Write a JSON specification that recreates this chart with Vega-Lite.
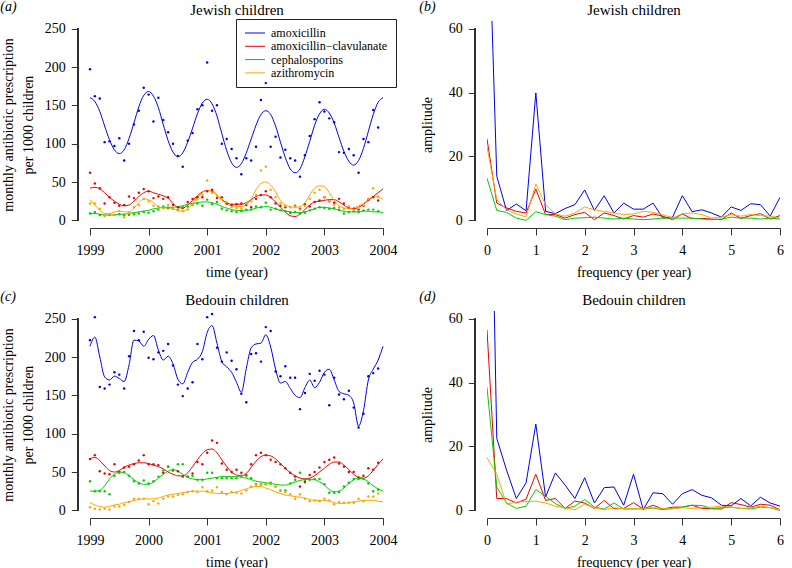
{
"$schema":"https://vega.github.io/schema/vega-lite/v6.json",
"padding":{"left":0,"top":0,"right":0,"bottom":0},
"config":{"font":"Liberation Serif, Times New Roman, serif","view":{"stroke":null},
"axis":{"labelFont":"Liberation Serif, Times New Roman, serif","titleFont":"Liberation Serif, Times New Roman, serif","labelFontSize":14,"titleFontSize":14,"titleFontWeight":"normal","labelColor":"#000","titleColor":"#000","tickColor":"#333","domainColor":"#333","tickSize":7,"domain":false,"grid":false,"labelPadding":6,"labelFlush":false,"labelOverlap":false,"labelBound":false},
"title":{"font":"Liberation Serif, Times New Roman, serif","fontSize":14,"fontWeight":"normal","fontStyle":"italic","color":"#000","anchor":"start","frame":"bounds","baseline":"alphabetic","offset":-12,"dx":-1},
"legend":{"labelFont":"Liberation Serif, Times New Roman, serif"}},
"datasets":{
"drugs":[{"k":"a","drug":"amoxicillin"},{"k":"b","drug":"amoxicillin−clavulanate"},{"k":"c","drug":"cephalosporins"},{"k":"d","drug":"azithromycin"},{"k":"A","drug":"amoxicillin"},{"k":"B","drug":"amoxicillin−clavulanate"},{"k":"C","drug":"cephalosporins"},{"k":"D","drug":"azithromycin"}],
"ja":[
{"t":1999,"a":197,"b":62,"c":9,"d":22,"A":160,"B":42,"C":9,"D":27},
{"t":1999.083,"a":162,"b":48,"c":11,"d":22,"A":155,"B":43,"C":9,"D":20},
{"t":1999.167,"a":159,"b":42,"c":7,"d":15,"A":142,"B":41,"C":8,"D":13},
{"t":1999.25,"a":102,"b":22,"c":6,"d":6,"A":123,"B":36,"C":7,"D":9},
{"t":1999.333,"a":103,"b":30,"c":7,"d":8,"A":105,"B":30,"C":7,"D":9},
{"t":1999.417,"a":97,"b":23,"c":7,"d":7,"A":92,"B":25,"C":7,"D":11},
{"t":1999.5,"a":107,"b":19,"c":8,"d":12,"A":87,"B":21,"C":8,"D":12},
{"t":1999.583,"a":78,"b":20,"c":7,"d":4,"A":92,"B":19,"C":8,"D":11},
{"t":1999.667,"a":100,"b":31,"c":7,"d":10,"A":107,"B":20,"C":9,"D":11},
{"t":1999.75,"a":125,"b":29,"c":8,"d":17,"A":127,"B":25,"C":10,"D":16},
{"t":1999.833,"a":143,"b":36,"c":9,"d":20,"A":148,"B":31,"C":11,"D":23},
{"t":1999.917,"a":173,"b":41,"c":11,"d":28,"A":163,"B":36,"C":12,"D":28},
{"t":2000,"a":164,"b":38,"c":10,"d":25,"A":168,"B":38,"C":13,"D":27},
{"t":2000.083,"a":129,"b":29,"c":12,"d":19,"A":162,"B":36,"C":15,"D":23},
{"t":2000.167,"a":160,"b":31,"c":14,"d":18,"A":147,"B":34,"C":16,"D":18},
{"t":2000.25,"a":131,"b":28,"c":18,"d":16,"A":125,"B":32,"C":17,"D":16},
{"t":2000.333,"a":115,"b":30,"c":16,"d":20,"A":104,"B":29,"C":17,"D":16},
{"t":2000.417,"a":100,"b":20,"c":15,"d":15,"A":89,"B":22,"C":17,"D":15},
{"t":2000.5,"a":84,"b":17,"c":14,"d":13,"A":83,"B":17,"C":18,"D":13},
{"t":2000.583,"a":70,"b":16,"c":17,"d":12,"A":88,"B":16,"C":19,"D":12},
{"t":2000.667,"a":104,"b":24,"c":18,"d":14,"A":102,"B":20,"C":21,"D":15},
{"t":2000.75,"a":114,"b":28,"c":20,"d":20,"A":120,"B":26,"C":22,"D":22},
{"t":2000.833,"a":145,"b":30,"c":22,"d":27,"A":139,"B":32,"C":23,"D":30},
{"t":2000.917,"a":150,"b":30,"c":19,"d":33,"A":153,"B":37,"C":24,"D":36},
{"t":2001,"a":206,"b":38,"c":27,"d":52,"A":158,"B":39,"C":24,"D":39},
{"t":2001.083,"a":143,"b":40,"c":21,"d":36,"A":152,"B":38,"C":23,"D":39},
{"t":2001.167,"a":150,"b":29,"c":24,"d":32,"A":136,"B":33,"C":21,"D":33},
{"t":2001.25,"a":100,"b":30,"c":15,"d":28,"A":113,"B":27,"C":18,"D":26},
{"t":2001.333,"a":106,"b":22,"c":13,"d":24,"A":91,"B":23,"C":16,"D":21},
{"t":2001.417,"a":93,"b":20,"c":12,"d":17,"A":75,"B":21,"C":14,"D":19},
{"t":2001.5,"a":81,"b":21,"c":11,"d":16,"A":69,"B":21,"C":13,"D":18},
{"t":2001.583,"a":60,"b":22,"c":12,"d":15,"A":74,"B":21,"C":13,"D":18},
{"t":2001.667,"a":81,"b":20,"c":14,"d":22,"A":88,"B":23,"C":13,"D":20},
{"t":2001.75,"a":78,"b":17,"c":14,"d":25,"A":106,"B":27,"C":14,"D":28},
{"t":2001.833,"a":96,"b":28,"c":18,"d":33,"A":124,"B":31,"C":16,"D":40},
{"t":2001.917,"a":157,"b":33,"c":17,"d":65,"A":138,"B":33,"C":17,"D":48},
{"t":2002,"a":179,"b":38,"c":23,"d":70,"A":143,"B":33,"C":18,"D":50},
{"t":2002.083,"a":96,"b":30,"c":14,"d":40,"A":138,"B":30,"C":17,"D":46},
{"t":2002.167,"a":109,"b":22,"c":15,"d":30,"A":123,"B":24,"C":15,"D":37},
{"t":2002.25,"a":82,"b":19,"c":13,"d":22,"A":102,"B":17,"C":13,"D":26},
{"t":2002.333,"a":92,"b":17,"c":12,"d":19,"A":82,"B":11,"C":12,"D":20},
{"t":2002.417,"a":81,"b":10,"c":10,"d":17,"A":67,"B":6,"C":11,"D":18},
{"t":2002.5,"a":78,"b":19,"c":11,"d":18,"A":62,"B":5,"C":10,"D":17},
{"t":2002.583,"a":57,"b":15,"c":9,"d":14,"A":67,"B":8,"C":10,"D":18},
{"t":2002.667,"a":85,"b":21,"c":10,"d":19,"A":83,"B":14,"C":11,"D":23},
{"t":2002.75,"a":110,"b":18,"c":13,"d":28,"A":103,"B":20,"C":13,"D":33},
{"t":2002.833,"a":132,"b":24,"c":15,"d":36,"A":124,"B":24,"C":15,"D":42},
{"t":2002.917,"a":154,"b":26,"c":17,"d":40,"A":139,"B":25,"C":17,"D":45},
{"t":2003,"a":142,"b":30,"c":16,"d":30,"A":145,"B":26,"C":17,"D":44},
{"t":2003.083,"a":133,"b":25,"c":15,"d":25,"A":140,"B":27,"C":16,"D":36},
{"t":2003.167,"a":128,"b":23,"c":16,"d":20,"A":127,"B":27,"C":15,"D":26},
{"t":2003.25,"a":89,"b":28,"c":14,"d":17,"A":108,"B":24,"C":13,"D":19},
{"t":2003.333,"a":88,"b":22,"c":9,"d":15,"A":90,"B":20,"C":12,"D":16},
{"t":2003.417,"a":93,"b":17,"c":11,"d":18,"A":77,"B":16,"C":11,"D":15},
{"t":2003.5,"a":85,"b":15,"c":12,"d":14,"A":72,"B":15,"C":11,"D":16},
{"t":2003.583,"a":62,"b":14,"c":11,"d":16,"A":78,"B":17,"C":11,"D":19},
{"t":2003.667,"a":106,"b":19,"c":13,"d":20,"A":94,"B":21,"C":12,"D":22},
{"t":2003.75,"a":102,"b":27,"c":14,"d":28,"A":116,"B":26,"C":12,"D":27},
{"t":2003.833,"a":144,"b":30,"c":14,"d":42,"A":138,"B":31,"C":11,"D":31},
{"t":2003.917,"a":121,"b":26,"c":12,"d":31,"A":154,"B":36,"C":11,"D":30},
{"t":2004,"A":160,"B":41,"C":10,"D":28}],
"ca":[
{"t":1999,"a":222,"b":67,"c":38,"d":4,"A":214,"B":67,"C":25,"D":10},
{"t":1999.083,"a":252,"b":72,"c":25,"d":2,"A":226,"B":69,"C":25,"D":7},
{"t":1999.167,"a":161,"b":51,"c":25,"d":1,"A":200,"B":65,"C":26,"D":5},
{"t":1999.25,"a":159,"b":48,"c":25,"d":2,"A":174,"B":58,"C":32,"D":4},
{"t":1999.333,"a":164,"b":47,"c":21,"d":1,"A":170,"B":52,"C":41,"D":5},
{"t":1999.417,"a":180,"b":60,"c":45,"d":5,"A":175,"B":50,"C":47,"D":7},
{"t":1999.5,"a":177,"b":50,"c":49,"d":5,"A":172,"B":52,"C":50,"D":8},
{"t":1999.583,"a":159,"b":56,"c":50,"d":7,"A":168,"B":56,"C":49,"D":10},
{"t":1999.667,"a":201,"b":57,"c":45,"d":11,"A":190,"B":59,"C":45,"D":11},
{"t":1999.75,"a":234,"b":60,"c":38,"d":15,"A":222,"B":61,"C":40,"D":13},
{"t":1999.833,"a":222,"b":65,"c":35,"d":15,"A":221,"B":62,"C":36,"D":14},
{"t":1999.917,"a":233,"b":72,"c":39,"d":15,"A":214,"B":62,"C":34,"D":15},
{"t":2000,"a":199,"b":60,"c":35,"d":8,"A":223,"B":61,"C":34,"D":15},
{"t":2000.083,"a":197,"b":60,"c":38,"d":12,"A":228,"B":59,"C":37,"D":15},
{"t":2000.167,"a":206,"b":59,"c":44,"d":9,"A":209,"B":57,"C":42,"D":16},
{"t":2000.25,"a":208,"b":49,"c":52,"d":15,"A":196,"B":54,"C":47,"D":18},
{"t":2000.333,"a":217,"b":57,"c":57,"d":18,"A":201,"B":50,"C":51,"D":20},
{"t":2000.417,"a":189,"b":52,"c":53,"d":18,"A":191,"B":47,"C":53,"D":21},
{"t":2000.5,"a":164,"b":51,"c":60,"d":20,"A":171,"B":45,"C":51,"D":22},
{"t":2000.583,"a":149,"b":44,"c":60,"d":21,"A":165,"B":45,"C":47,"D":23},
{"t":2000.667,"a":159,"b":44,"c":44,"d":24,"A":180,"B":49,"C":43,"D":24},
{"t":2000.75,"a":167,"b":48,"c":45,"d":25,"A":193,"B":57,"C":41,"D":25},
{"t":2000.833,"a":217,"b":63,"c":40,"d":24,"A":197,"B":66,"C":40,"D":25},
{"t":2000.917,"a":197,"b":60,"c":40,"d":30,"A":207,"B":74,"C":40,"D":25},
{"t":2001,"a":252,"b":75,"c":49,"d":25,"A":232,"B":79,"C":41,"D":24},
{"t":2001.083,"a":256,"b":91,"c":49,"d":26,"A":241,"B":80,"C":42,"D":23},
{"t":2001.167,"a":212,"b":88,"c":42,"d":30,"A":218,"B":75,"C":43,"D":22},
{"t":2001.25,"a":194,"b":61,"c":42,"d":24,"A":194,"B":66,"C":44,"D":22},
{"t":2001.333,"a":206,"b":53,"c":42,"d":21,"A":187,"B":57,"C":44,"D":22},
{"t":2001.417,"a":195,"b":50,"c":42,"d":24,"A":180,"B":50,"C":44,"D":23},
{"t":2001.5,"a":184,"b":53,"c":42,"d":23,"A":167,"B":46,"C":44,"D":24},
{"t":2001.583,"a":152,"b":49,"c":45,"d":22,"A":154,"B":45,"C":43,"D":26},
{"t":2001.667,"a":141,"b":46,"c":45,"d":26,"A":185,"B":48,"C":42,"D":28},
{"t":2001.75,"a":204,"b":60,"c":42,"d":31,"A":212,"B":56,"C":40,"D":30},
{"t":2001.833,"a":205,"b":72,"c":34,"d":33,"A":217,"B":64,"C":38,"D":31},
{"t":2001.917,"a":194,"b":75,"c":34,"d":33,"A":218,"B":70,"C":37,"D":31},
{"t":2002,"a":239,"b":72,"c":34,"d":35,"A":229,"B":72,"C":36,"D":29},
{"t":2002.083,"a":234,"b":66,"c":36,"d":34,"A":213,"B":71,"C":35,"D":27},
{"t":2002.167,"a":181,"b":63,"c":31,"d":31,"A":184,"B":67,"C":34,"D":24},
{"t":2002.25,"a":175,"b":60,"c":26,"d":26,"A":166,"B":61,"C":33,"D":22},
{"t":2002.333,"a":188,"b":55,"c":26,"d":24,"A":168,"B":55,"C":33,"D":20},
{"t":2002.417,"a":173,"b":49,"c":35,"d":21,"A":159,"B":49,"C":35,"D":19},
{"t":2002.5,"a":173,"b":44,"c":40,"d":15,"A":150,"B":45,"C":37,"D":18},
{"t":2002.583,"a":132,"b":31,"c":49,"d":21,"A":147,"B":42,"C":39,"D":17},
{"t":2002.667,"a":153,"b":37,"c":40,"d":15,"A":160,"B":41,"C":40,"D":16},
{"t":2002.75,"a":178,"b":46,"c":40,"d":12,"A":170,"B":42,"C":40,"D":14},
{"t":2002.833,"a":169,"b":50,"c":41,"d":13,"A":160,"B":45,"C":40,"D":13},
{"t":2002.917,"a":182,"b":56,"c":41,"d":12,"A":167,"B":50,"C":37,"D":13},
{"t":2003,"a":177,"b":63,"c":34,"d":15,"A":180,"B":55,"C":33,"D":13},
{"t":2003.083,"a":137,"b":66,"c":23,"d":13,"A":184,"B":60,"C":27,"D":12},
{"t":2003.167,"a":173,"b":69,"c":23,"d":8,"A":170,"B":63,"C":24,"D":10},
{"t":2003.25,"a":151,"b":61,"c":24,"d":11,"A":155,"B":63,"C":25,"D":9},
{"t":2003.333,"a":145,"b":57,"c":31,"d":10,"A":152,"B":59,"C":29,"D":9},
{"t":2003.417,"a":156,"b":50,"c":36,"d":10,"A":150,"B":53,"C":35,"D":10},
{"t":2003.5,"a":134,"b":50,"c":41,"d":10,"A":140,"B":47,"C":40,"D":11},
{"t":2003.583,"a":108,"b":43,"c":41,"d":15,"A":110,"B":43,"C":42,"D":12},
{"t":2003.667,"a":126,"b":45,"c":41,"d":12,"A":130,"B":42,"C":41,"D":13},
{"t":2003.75,"a":175,"b":55,"c":35,"d":18,"A":170,"B":45,"C":37,"D":13},
{"t":2003.833,"a":179,"b":53,"c":25,"d":18,"A":184,"B":52,"C":32,"D":13},
{"t":2003.917,"a":185,"b":62,"c":27,"d":22,"A":196,"B":60,"C":28,"D":12},
{"t":2004,"A":214,"B":67,"C":25,"D":11}],
"jb":[
{"f":0,"a":113,"b":25.5,"c":13.2,"d":23},{"f":0.2,"a":13.8,"b":5.4,"c":3.1,"d":6.5},{"f":0.4,"a":3.1,"b":3.9,"c":2.5,"d":3.3},{"f":0.6,"a":5.1,"b":2.8,"c":0.7,"d":2},{"f":0.8,"a":3,"b":2.3,"c":0,"d":1},{"f":1,"a":39.9,"b":9.8,"c":2.7,"d":11.4},{"f":1.2,"a":2.8,"b":1.8,"c":1.8,"d":4.9},{"f":1.4,"a":2.1,"b":1.8,"c":1.3,"d":2},{"f":1.6,"a":3.7,"b":0.7,"c":0.2,"d":1.3},{"f":1.8,"a":4.9,"b":1.8,"c":0.7,"d":2.3},{"f":2,"a":9.5,"b":2.5,"c":0.8,"d":4.2},{"f":2.2,"a":3.1,"b":0.2,"c":1,"d":3.3},{"f":2.4,"a":7.7,"b":2.3,"c":0.7,"d":2.8},{"f":2.6,"a":2.3,"b":1.5,"c":0.4,"d":2.3},{"f":2.8,"a":5.4,"b":0.4,"c":0.7,"d":1.8},{"f":3,"a":3.5,"b":1.5,"c":0.4,"d":2},{"f":3.2,"a":3.5,"b":1,"c":0.2,"d":2.8},{"f":3.4,"a":5.4,"b":2,"c":0.4,"d":2.5},{"f":3.6,"a":0.7,"b":1.3,"c":0.7,"d":1.8},{"f":3.8,"a":1,"b":0.2,"c":0.7,"d":0.7},{"f":4,"a":7.7,"b":2,"c":0.7,"d":2.1},{"f":4.2,"a":2.7,"b":0.5,"c":0.7,"d":2.3},{"f":4.4,"a":3.3,"b":0.6,"c":0.4,"d":1.8},{"f":4.6,"a":2.3,"b":0.4,"c":0.2,"d":0.7},{"f":4.8,"a":1,"b":0.2,"c":0.4,"d":1},{"f":5,"a":4.2,"b":2.3,"c":1,"d":1.8},{"f":5.2,"a":3.1,"b":0.6,"c":0.7,"d":1.3},{"f":5.4,"a":5.2,"b":1.5,"c":0.7,"d":1.8},{"f":5.6,"a":4.9,"b":2.1,"c":0.4,"d":1.5},{"f":5.8,"a":1.3,"b":0.4,"c":0.7,"d":1.3},{"f":6,"a":7.2,"b":1.5,"c":0.4,"d":0.7}],
"cb":[
{"f":0,"a":182,"b":56.5,"c":38.5,"d":16.5},{"f":0.2,"a":22.5,"b":3.7,"c":7.3,"d":11.3},{"f":0.4,"a":12.6,"b":3.7,"c":2.3,"d":1.9},{"f":0.6,"a":3.7,"b":2.3,"c":0.6,"d":2.6},{"f":0.8,"a":8.6,"b":3.5,"c":1.3,"d":2.7},{"f":1,"a":27,"b":11.3,"c":6.5,"d":2.9},{"f":1.2,"a":4.2,"b":3.1,"c":4.4,"d":2.3},{"f":1.4,"a":11.7,"b":3.7,"c":2.1,"d":1.3},{"f":1.6,"a":7.9,"b":0.6,"c":0.6,"d":0.8},{"f":1.8,"a":3.7,"b":2.9,"c":1.3,"d":0.2},{"f":2,"a":10.2,"b":2.3,"c":3.4,"d":1.9},{"f":2.2,"a":2.3,"b":0.6,"c":1,"d":0.8},{"f":2.4,"a":7.1,"b":3.1,"c":0.4,"d":0.2},{"f":2.6,"a":7.3,"b":0.5,"c":2.3,"d":0.8},{"f":2.8,"a":1.6,"b":0.6,"c":0.4,"d":0.5},{"f":3,"a":11.3,"b":2.4,"c":0.5,"d":0.4},{"f":3.2,"a":0.2,"b":0.4,"c":0.4,"d":0.6},{"f":3.4,"a":5.5,"b":1.6,"c":0.7,"d":0.8},{"f":3.6,"a":5.2,"b":0.4,"c":0.2,"d":0.6},{"f":3.8,"a":1.9,"b":1,"c":0.6,"d":0.4},{"f":4,"a":5.2,"b":1,"c":1,"d":0.8},{"f":4.2,"a":6.5,"b":1.6,"c":1.6,"d":0.6},{"f":4.4,"a":4.7,"b":0.6,"c":1.5,"d":0.8},{"f":4.6,"a":3.9,"b":0.5,"c":0.6,"d":1},{"f":4.8,"a":1.6,"b":0.4,"c":0.8,"d":1.3},{"f":5,"a":1.4,"b":2.4,"c":1,"d":1},{"f":5.2,"a":3.7,"b":1.8,"c":0.6,"d":0.6},{"f":5.4,"a":1.4,"b":1,"c":0.4,"d":0.8},{"f":5.6,"a":4.1,"b":1.9,"c":1,"d":1.3},{"f":5.8,"a":2.3,"b":1.6,"c":0.8,"d":0.8},{"f":6,"a":1.3,"b":0.2,"c":0,"d":0.2}]
},
"columns":2,
"spacing":{"row":83,"column":104},
"bounds":"flush",
"resolve":{"scale":{"color":"independent"},"legend":{"color":"independent"}},
"concat":[
{"width":293,"height":207,"data":{"name":"ja"},"title":{"text":"(a)"},
 "layer":[
  {"transform":[{"fold":["A","B","C","D"],"as":["k","v"]},{"lookup":"k","from":{"data":{"name":"drugs"},"key":"k","fields":["drug"]}}],
   "mark":{"type":"line","strokeWidth":1,"interpolate":"monotone"},
   "encoding":{"x":{"field":"t","type":"quantitative","scale":{"domain":[1999,2004],"nice":false,"zero":false},"axis":{"title":"time (year)","values":[1999,2000,2001,2002,2003,2004],"format":"d","domain":true,"labelPadding":8,"titlePadding":8}},
    "y":{"field":"v","type":"quantitative","scale":{"domain":[-10,260],"nice":false,"zero":false},"axis":{"title":["monthly antibiotic prescription","per 1000 children"],"values":[0,50,100,150,200,250],"offset":11.7,"titleLineHeight":20,"titlePadding":9}},
    "color":{"field":"drug","type":"nominal","scale":{"domain":["amoxicillin","amoxicillin−clavulanate","cephalosporins","azithromycin"],"range":["#0000ee","#ee0000","#00cd00","#ffa500"]},
     "legend":{"title":null,"orient":"none","legendX":146,"legendY":-2,"symbolType":"M-1,0H3","symbolSize":100,"symbolStrokeWidth":1,"labelFontSize":12,"labelOffset":15,"padding":8,"rowPadding":1.3,"strokeColor":"#222","labelLimit":300}}}},
  {"transform":[{"fold":["a","b","c","d"],"as":["k","v"]},{"lookup":"k","from":{"data":{"name":"drugs"},"key":"k","fields":["drug"]}}],
   "mark":{"type":"circle","size":6,"opacity":1},
   "encoding":{"x":{"field":"t","type":"quantitative","axis":{"orient":"top","title":"Jewish children","labels":false,"ticks":false,"domain":false,"titleFontSize":15,"titleFontWeight":"normal","titlePadding":7,"titleBaseline":"alphabetic"}},
    "y":{"field":"v","type":"quantitative","axis":null},
    "color":{"field":"drug","type":"nominal","legend":null}}},
  {"mark":{"type":"rule","color":"#333","strokeWidth":1},"encoding":{"x":{"datum":1998.8,"type":"quantitative","axis":null},"y":{"datum":0,"type":"quantitative","axis":null},"y2":{"datum":250}}}
 ],
 "resolve":{"axis":{"x":"independent","y":"independent"}}},
{"width":293,"height":207,"data":{"name":"jb"},"title":{"text":"(b)"},
 "layer":[
  {"transform":[{"fold":["a","b","c","d"],"as":["k","v"]},{"lookup":"k","from":{"data":{"name":"drugs"},"key":"k","fields":["drug"]}}],
   "mark":{"type":"line","strokeWidth":1,"clip":true},
   "encoding":{"x":{"field":"f","type":"quantitative","scale":{"domain":[0,6],"nice":false,"zero":false},"axis":{"title":"frequency (per year)","values":[0,1,2,3,4,5,6],"format":"d","domain":true,"labelPadding":8,"titlePadding":8}},
    "y":{"field":"v","type":"quantitative","scale":{"domain":[-2.4,62.4],"nice":false,"zero":false},"axis":{"title":"amplitude","values":[0,20,40,60],"offset":11.7,"titlePadding":14}},
    "color":{"field":"drug","type":"nominal","scale":{"domain":["amoxicillin","amoxicillin−clavulanate","cephalosporins","azithromycin"],"range":["#0000ee","#ee0000","#00cd00","#ffa500"]},"legend":null}}},
  {"mark":{"type":"rule","color":"#333","strokeWidth":1},"encoding":{"x":{"datum":-0.24,"type":"quantitative","axis":{"orient":"top","title":"Jewish children","labels":false,"ticks":false,"domain":false,"titleFontSize":15,"titleFontWeight":"normal","titlePadding":7,"titleBaseline":"alphabetic"}},"y":{"datum":0,"type":"quantitative","axis":null},"y2":{"datum":60}}}
 ],
 "resolve":{"axis":{"x":"independent","y":"independent"}}},
{"width":293,"height":207,"data":{"name":"ca"},"title":{"text":"(c)"},
 "layer":[
  {"transform":[{"fold":["A","B","C","D"],"as":["k","v"]},{"lookup":"k","from":{"data":{"name":"drugs"},"key":"k","fields":["drug"]}}],
   "mark":{"type":"line","strokeWidth":1,"interpolate":"monotone"},
   "encoding":{"x":{"field":"t","type":"quantitative","scale":{"domain":[1999,2004],"nice":false,"zero":false},"axis":{"title":"time (year)","values":[1999,2000,2001,2002,2003,2004],"format":"d","domain":true,"labelPadding":8,"titlePadding":8}},
    "y":{"field":"v","type":"quantitative","scale":{"domain":[-10,260],"nice":false,"zero":false},"axis":{"title":["monthly antibiotic prescription","per 1000 children"],"values":[0,50,100,150,200,250],"offset":11.7,"titleLineHeight":20,"titlePadding":9}},
    "color":{"field":"drug","type":"nominal","scale":{"domain":["amoxicillin","amoxicillin−clavulanate","cephalosporins","azithromycin"],"range":["#0000ee","#ee0000","#00cd00","#ffa500"]},"legend":null}}},
  {"transform":[{"fold":["a","b","c","d"],"as":["k","v"]},{"lookup":"k","from":{"data":{"name":"drugs"},"key":"k","fields":["drug"]}}],
   "mark":{"type":"circle","size":6,"opacity":1},
   "encoding":{"x":{"field":"t","type":"quantitative","axis":{"orient":"top","title":"Bedouin children","labels":false,"ticks":false,"domain":false,"titleFontSize":15,"titleFontWeight":"normal","titlePadding":7,"titleBaseline":"alphabetic"}},
    "y":{"field":"v","type":"quantitative","axis":null},
    "color":{"field":"drug","type":"nominal","legend":null}}},
  {"mark":{"type":"rule","color":"#333","strokeWidth":1},"encoding":{"x":{"datum":1998.8,"type":"quantitative","axis":null},"y":{"datum":0,"type":"quantitative","axis":null},"y2":{"datum":250}}}
 ],
 "resolve":{"axis":{"x":"independent","y":"independent"}}},
{"width":293,"height":207,"data":{"name":"cb"},"title":{"text":"(d)"},
 "layer":[
  {"transform":[{"fold":["a","b","c","d"],"as":["k","v"]},{"lookup":"k","from":{"data":{"name":"drugs"},"key":"k","fields":["drug"]}}],
   "mark":{"type":"line","strokeWidth":1,"clip":true},
   "encoding":{"x":{"field":"f","type":"quantitative","scale":{"domain":[0,6],"nice":false,"zero":false},"axis":{"title":"frequency (per year)","values":[0,1,2,3,4,5,6],"format":"d","domain":true,"labelPadding":8,"titlePadding":8}},
    "y":{"field":"v","type":"quantitative","scale":{"domain":[-2.4,62.4],"nice":false,"zero":false},"axis":{"title":"amplitude","values":[0,20,40,60],"offset":11.7,"titlePadding":14}},
    "color":{"field":"drug","type":"nominal","scale":{"domain":["amoxicillin","amoxicillin−clavulanate","cephalosporins","azithromycin"],"range":["#0000ee","#ee0000","#00cd00","#ffa500"]},"legend":null}}},
  {"mark":{"type":"rule","color":"#333","strokeWidth":1},"encoding":{"x":{"datum":-0.24,"type":"quantitative","axis":{"orient":"top","title":"Bedouin children","labels":false,"ticks":false,"domain":false,"titleFontSize":15,"titleFontWeight":"normal","titlePadding":7,"titleBaseline":"alphabetic"}},"y":{"datum":0,"type":"quantitative","axis":null},"y2":{"datum":60}}}
 ],
 "resolve":{"axis":{"x":"independent","y":"independent"}}}
]
}
